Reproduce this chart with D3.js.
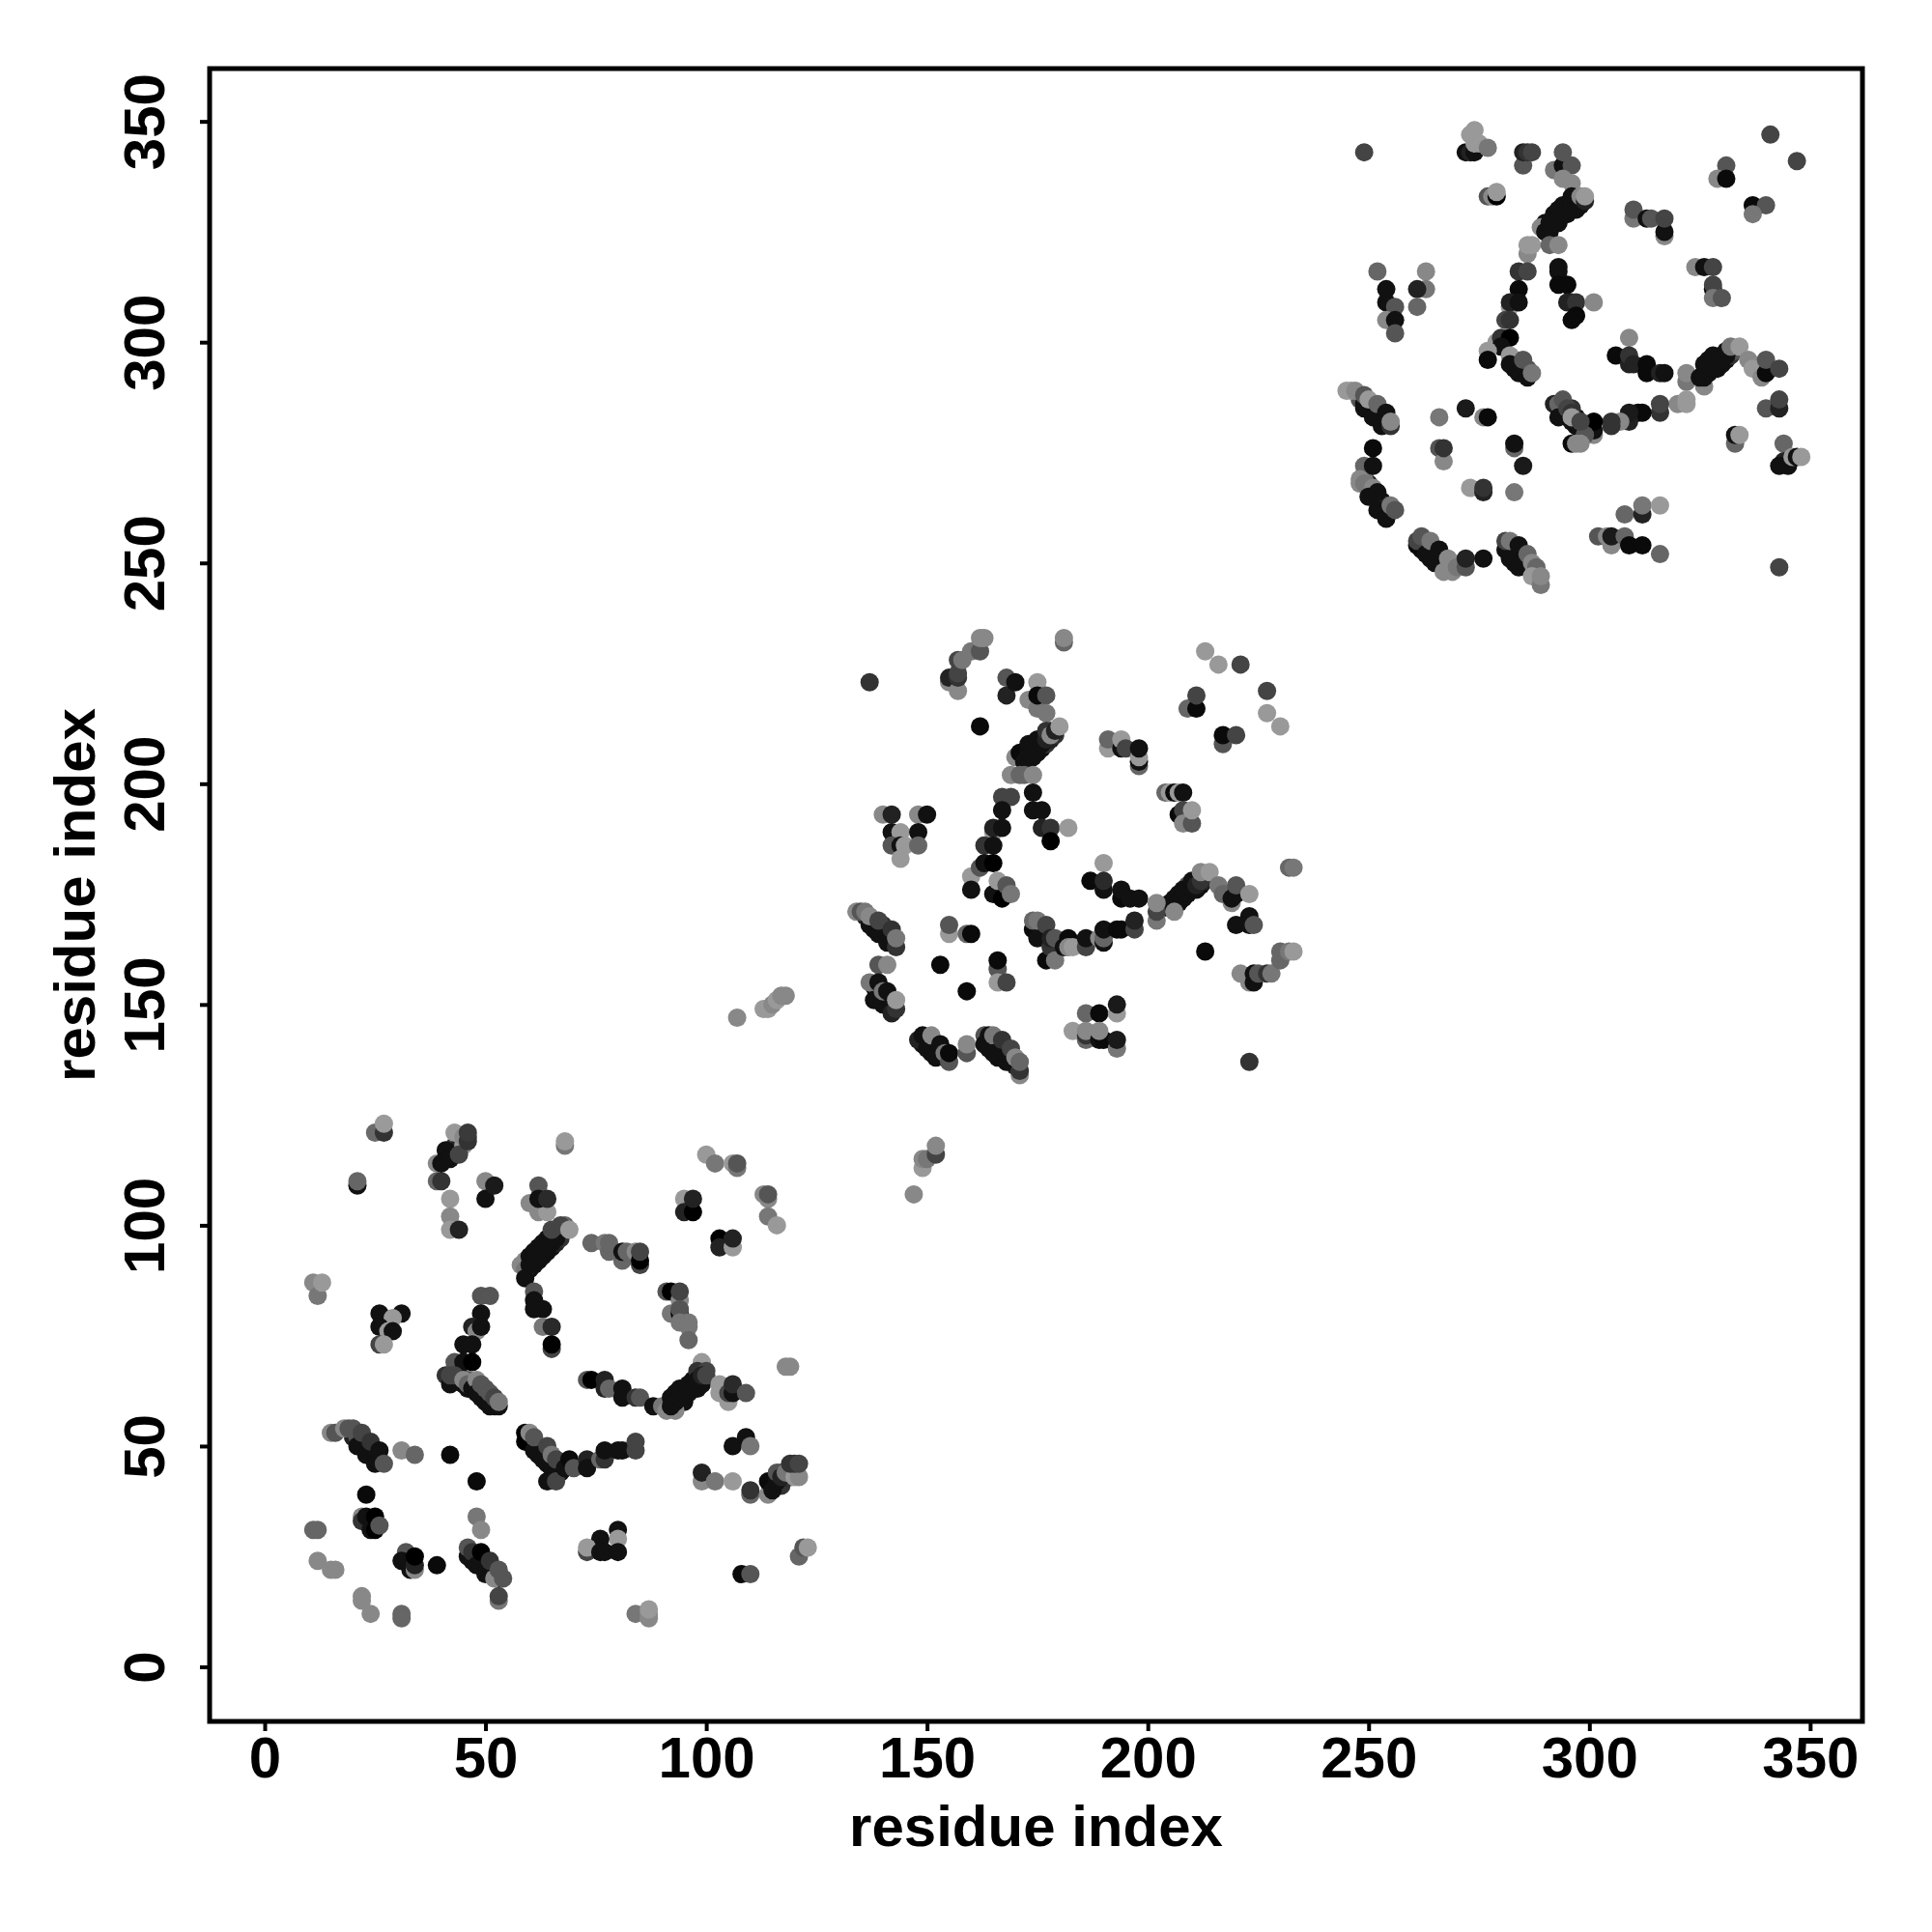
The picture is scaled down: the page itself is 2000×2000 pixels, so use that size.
<!DOCTYPE html>
<html><head><meta charset="utf-8">
<style>html,body{margin:0;padding:0;background:#fff}svg{display:block}text{font-family:"Liberation Sans",Arial,sans-serif;font-weight:700;fill:#000}</style>
<script src="https://cdn.jsdelivr.net/npm/d3@7"></script></head><body>
<script>
const tickLabels=[0,50,100,150,200,250,300,350];
const axisTitle="residue index";
// [residue i, residue j, shade level]
const contactsUnder=[
[42,117,0x11],[43,118,0x33],[44,119,0x55],[43,116,0x22],[44,118,0x22],[45,119,0x44],[46,120,0x33],
[20,52,0x22],[21,52,0x55],[22,51,0x11],[23,50,0x33],[24,49,0x11],[25,48,0x44],[26,47,0x11],[24,48,0x11],
[47,24,0x11],[48,25,0x55],[49,24,0x22],[50,23,0x55],[51,22,0x11],[52,21,0x55],[52,22,0x22],[53,20,0x11],[53,21,0x55],
[44,66,0x11],[45,64,0x11],[46,65,0x55],[46,63,0x11],[47,64,0x55],[48,63,0x11],[49,62,0x33],[50,61,0x11],[50,60,0x11],[51,60,0x33],[52,60,0x11],[52,59,0x11],
[60,51,0x11],[61,50,0x11],[62,49,0x44],[62,48,0x11],[63,49,0x55],[64,48,0x11],[65,46,0x11],[65,45,0x11],[66,45,0x33],[67,44,0x11],[67,46,0x44],[64,46,0x11],[66,44,0x11],
[92,60,0x11],[93,59,0x33],[93,62,0x11],[94,60,0x11],[95,61,0x11],[95,60,0x11],[96,62,0x11],[97,65,0x11],[97,64,0x11],[98,63,0x11],[99,65,0x33],[99,64,0x11],
[115,42,0x11],[116,41,0x11],[117,41,0x33],[117,44,0x44],[118,43,0x22],[119,44,0x55],[119,43,0x33],[120,45,0x44],
[60,90,0x11],[61,91,0x11],[62,92,0x11],[63,93,0x11],[64,94,0x11],[65,95,0x11],[66,96,0x22],[67,97,0x33],[67,99,0x55],[68,100,0x66],[62,94,0x55],[63,95,0x33],[64,96,0x55],[65,97,0x33],[66,98,0x55],
[172,206,0x11],[173,206,0x11],[174,208,0x11],[175,207,0x11],[176,208,0x11],[176,210,0x22],[177,209,0x33],[178,210,0x22],[178,212,0x55],[179,211,0x33],[174,209,0x55],
[205,172,0x11],[206,173,0x55],[207,173,0x11],[207,174,0x33],[208,175,0x55],[209,176,0x11],[209,177,0x55],[210,177,0x33],[211,176,0x11],[211,178,0x33],[212,177,0x11],[213,179,0x55],[213,178,0x22],
[138,169,0x22],[138,167,0x11],[140,168,0x33],[140,166,0x11],[141,167,0x44],[142,165,0x11],[142,164,0x11],[136,170,0x22],[139,168,0x11],[141,165,0x11],
[138,154,0x11],[139,153,0x55],[139,152,0x11],[140,151,0x11],[141,152,0x11],[141,150,0x11],[142,151,0x55],[142,150,0x11],[142,149,0x11],
[149,141,0x11],[150,142,0x55],[151,141,0x11],[151,139,0x11],[152,140,0x55],[153,139,0x11],[154,138,0x11],
[164,141,0x11],[165,141,0x55],[166,140,0x11],[166,138,0x11],[167,139,0x44],[168,139,0x11],[169,137,0x11],[170,136,0x22],[164,140,0x11],
[248,287,0x55],[249,286,0x11],[250,285,0x22],[251,285,0x55],[252,283,0x11],[252,284,0x33],[253,283,0x11],[254,282,0x11],[251,286,0x11],
[249,270,0x66],[250,268,0x22],[250,267,0x11],[251,266,0x11],[252,265,0x33],[253,264,0x11],[254,263,0x33],[253,262,0x11],[255,262,0x33],[254,262,0x11],[249,269,0x77],
[262,253,0x11],[263,254,0x11],[264,253,0x22],[264,251,0x11],[265,252,0x33],[266,251,0x11],[267,250,0x11],[268,249,0x55],[262,254,0x22],
[282,253,0x22],[283,252,0x11],[283,250,0x11],[284,251,0x11],[285,250,0x22],[286,249,0x55],[286,250,0x33],[287,248,0x77],[288,248,0x77],
[290,327,0x11],[291,326,0x11],[292,328,0x11],[293,330,0x11],[293,327,0x11],[294,330,0x11],[295,331,0x11],[295,329,0x11],[296,332,0x11],[296,330,0x11],[297,331,0x22],[298,332,0x11],
[326,293,0x11],[327,294,0x11],[327,296,0x11],[328,295,0x11],[329,296,0x11],[329,294,0x11],[330,295,0x11],[330,297,0x11],[331,298,0x11],[331,296,0x11],[332,297,0x33],[333,298,0x55],
[293,285,0x11],[294,284,0x11],[295,283,0x11],[296,285,0x33],[297,283,0x11],[294,285,0x22],[295,284,0x33],[297,281,0x11],
[283,294,0x11],[284,295,0x11],[285,294,0x33],[286,294,0x55],[285,293,0x11],[283,296,0x22],[286,293,0x33]
];
const contactsA=[
[25,121,0x6a],[27,121,0x33],[27,123,0x9a],[21,109,0x11],[21,110,0x66],
[39,114,0x88],[39,110,0x66],[40,110,0x33],[41,115,0x11],[40,114,0x11],[41,117,0x11],[42,115,0x11],[43,121,0x99],[45,118,0x99],[44,116,0x44],[45,120,0x88],[46,119,0x33],[46,121,0x3a],
[42,106,0x99],[42,102,0x88],[42,99,0x99],[44,99,0x22],[50,110,0x88],[50,106,0x11],[52,109,0x1a],
[62,109,0x55],[60,105,0x88],[62,103,0x88],[64,103,0x99],[62,106,0x11],[64,106,0x2a],
[59,92,0x88],[58,91,0x88],[59,90,0x77],[59,88,0x11],[60,93,0x11],[60,91,0x11],[61,94,0x11],[61,92,0x11],[62,95,0x11],[62,93,0x11],[63,96,0x11],[63,94,0x11],[64,97,0x11],[64,95,0x11],[65,98,0x11],[65,96,0x11],[66,99,0x22],[66,97,0x11],[67,100,0x44],[65,99,0x44],[69,99,0x99],
[61,85,0x55],[61,83,0x11],[61,81,0x11],[63,81,0x11],[63,77,0x77],[65,77,0x2a],[65,72,0x44],[65,73,0x02],
[68,118,0x77],[68,119,0x99],[11,87,0x88],[12,84,0x77],[13,87,0x99],
[26,80,0x11],[31,80,0x11],[29,79,0x99],[26,77,0x11],[28,76,0x99],[29,76,0x11],[26,73,0x44],[27,73,0x99],
[49,84,0x55],[51,84,0x55],[49,80,0x11],[47,77,0x22],[48,76,0x88],[49,77,0x11],[45,73,0x11],[47,73,0x11],[43,69,0x55],[45,69,0x11],[47,69,0x00],
[41,66,0x33],[42,64,0x11],[42,66,0x44],[43,66,0x44],[45,65,0x88],[46,64,0x66],[47,63,0x11],[48,65,0x88],[48,62,0x11],[49,61,0x11],[49,64,0x55],[50,63,0x55],[51,59,0x11],[51,62,0x55],[52,61,0x44],[53,59,0x11],[53,60,0x77],
[100,116,0x99],[102,114,0x77],[106,114,0x99],[107,113,0x77],[107,114,0x55],[113,107,0x88],[114,106,0x88],[114,107,0x55],[114,102,0x77],[116,100,0x99],
[95,106,0x99],[95,103,0x22],[97,103,0x00],[97,106,0x22],[103,97,0x00],[103,95,0x22],[106,95,0x99],[106,97,0x22],
[74,96,0x66],[77,96,0x77],[78,94,0x66],[78,96,0x66],[81,92,0x66],[81,94,0x11],[82,94,0x66],[84,94,0x88],[85,91,0x44],[85,92,0x00],[85,94,0x44],
[91,85,0x55],[92,85,0x00],[94,83,0x88],[94,85,0x44],[92,80,0x77],[94,80,0x00],[94,81,0x55],[94,78,0x77],[96,77,0x77],[96,78,0x77],[96,74,0x66],
[99,69,0x99],[98,67,0x33],[100,67,0x44],[118,68,0x88],[119,68,0x88],
[15,53,0x88],[16,53,0x55],[18,54,0x88],[19,54,0x55],[20,54,0x55],[21,50,0x11],[22,53,0x44],[23,48,0x11],[24,51,0x33],[25,46,0x11],[26,49,0x11],[27,46,0x55],[31,49,0x88],[34,48,0x66],
[42,48,0x0a],[48,42,0x0a],[23,39,0x0a],[48,34,0x77],[49,31,0x88],
[22,34,0x88],[22,33,0x33],[23,34,0x11],[24,31,0x11],[25,34,0x00],[25,31,0x00],[26,32,0x55],
[11,31,0x66],[12,31,0x66],[12,24,0x88],[15,22,0x88],[16,22,0x88],[22,16,0x88],[22,15,0x88],[24,12,0x88],[31,12,0x66],[31,11,0x66],
[32,26,0x55],[31,24,0x11],[33,22,0x11],[34,22,0x88],[34,23,0x22],[34,25,0x00],[39,23,0x0a],
[46,25,0x11],[46,27,0x55],[47,26,0x33],[48,23,0x11],[49,26,0x00],[50,21,0x11],[51,24,0x33],[52,20,0x88],[53,22,0x55],[54,20,0x55],[53,15,0x77],[53,16,0x44],
[59,51,0x00],[59,53,0x00],[60,53,0x88],[61,49,0x11],[61,52,0x55],[63,47,0x11],[64,50,0x44],[64,42,0x11],[66,42,0x44],[65,48,0x77],[66,47,0x44],[68,45,0x11],[69,47,0x0a],[70,45,0x55],
[73,47,0x22],[73,45,0x11],[76,47,0x66],[77,47,0x33],[77,49,0x11],[80,49,0x11],[81,49,0x11],[84,49,0x44],[84,51,0x44],
[73,65,0x55],[74,65,0x00],[77,63,0x22],[77,65,0x22],[78,63,0x66],[81,61,0x11],[81,63,0x11],[84,61,0x33],[85,61,0x55],[88,59,0x11],[90,59,0x77],[91,58,0x88],[93,58,0x88],
[92,61,0x11],[92,59,0x11],[93,60,0x11],[94,61,0x11],[94,63,0x11],[95,62,0x11],[96,63,0x11],[96,64,0x11],[97,63,0x11],[98,65,0x11],[99,66,0x22],[100,66,0x44],
[103,64,0x99],[103,62,0x99],[105,60,0x99],[105,62,0x44],[106,62,0x11],[106,64,0x2a],[109,62,0x55],
[106,50,0x11],[109,52,0x11],[110,50,0x77],[99,42,0x88],[99,44,0x22],[102,42,0x77],[106,42,0x99],[110,39,0x66],[110,40,0x33],
[114,39,0x88],[114,42,0x0a],[115,40,0x11],[116,42,0x11],[116,44,0x55],[117,43,0x22],[118,44,0x77],[120,43,0x99],[121,43,0x88],[119,46,0x33],[120,46,0x33],[121,46,0x44],
[121,25,0x66],[122,27,0x55],[123,27,0x99],[108,21,0x0a],[110,21,0x55],[84,12,0x77],[87,11,0x88],[87,12,0x88],[87,13,0x99],
[80,31,0x11],[80,29,0x99],[76,29,0x11],[73,26,0x44],[73,27,0x99],[76,26,0x11],[77,26,0x11],[80,26,0x11]
];
const contactsB=[
[137,223,0x33],[162,213,0x0a],[155,223,0x88],[155,224,0x22],[157,221,0x88],[157,224,0x33],[157,225,0x44],[157,228,0x44],[158,228,0x77],[160,230,0x77],[162,230,0x55],[162,233,0x88],[163,233,0x88],
[168,224,0x55],[168,220,0x22],[170,223,0x11],[175,223,0x99],[173,219,0x88],[175,217,0x77],[175,220,0x0a],[177,220,0x55],[177,216,0x77],
[170,206,0x88],[171,207,0x0a],[172,205,0x11],[173,207,0x11],[173,209,0x11],[174,206,0x11],[175,208,0x11],[175,210,0x11],[176,209,0x11],[177,210,0x22],[177,212,0x33],[178,211,0x88],[179,212,0x22],[180,213,0x99],
[169,202,0x88],[171,202,0x66],[172,202,0x66],[174,202,0x88],
[167,197,0x44],[169,197,0x44],[167,194,0x11],[165,189,0x99],[165,190,0x22],[167,190,0x11],[163,186,0x33],[165,186,0x11],[160,179,0x99],[160,176,0x11],[162,181,0x55],[163,182,0x11],[165,182,0x00],[165,175,0x11],[166,178,0x99],[167,174,0x00],[168,177,0x55],[169,175,0x77],
[174,198,0x11],[174,194,0x11],[176,194,0x11],[176,190,0x22],[178,190,0x33],[178,187,0x00],[182,190,0x99],
[140,193,0x88],[142,193,0x22],[148,193,0x88],[150,193,0x11],[142,189,0x11],[144,189,0x99],[148,189,0x11],[142,186,0x55],[144,186,0x11],[145,186,0x99],[148,186,0x66],[144,183,0x99],
[213,230,0x99],[216,227,0x99],[221,227,0x44],[227,221,0x44],[227,216,0x99],[230,213,0x99],[209,217,0x66],[211,217,0x0a],[211,220,0x44],[217,209,0x55],[217,211,0x0a],[220,211,0x44],[181,232,0x66],[181,233,0x88],
[191,208,0x99],[191,210,0x66],[194,208,0x11],[194,210,0x99],[195,208,0x44],[198,204,0x66],[198,205,0x11],[198,206,0x99],[198,208,0x11],
[204,198,0x66],[205,198,0x99],[206,198,0x0a],[207,198,0x99],[208,198,0x11],[207,193,0x0a],[208,194,0x44],[208,191,0x88],[210,191,0x55],[210,194,0x99],
[190,182,0x99],[187,178,0x0a],[190,176,0x11],[190,178,0x2a],[194,174,0x0a],[194,176,0x11],[196,174,0x11],[198,174,0x11],[232,181,0x66],[233,181,0x77],
[204,172,0x11],[205,173,0x11],[206,172,0x11],[206,174,0x11],[207,175,0x11],[208,174,0x11],[208,176,0x11],[209,175,0x11],[210,176,0x11],[210,178,0x11],[211,177,0x22],[212,178,0x33],[212,180,0x88],[214,180,0x99],
[216,177,0x77],[217,175,0x66],[219,173,0x88],[219,174,0x11],[220,175,0x11],[220,177,0x55],[223,175,0x99],
[134,171,0x88],[135,171,0x55],[136,171,0x77],[137,168,0x11],[137,170,0x88],[139,166,0x11],[139,169,0x44],[141,164,0x11],[142,167,0x33],[143,163,0x33],[143,165,0x77],
[139,159,0x55],[141,159,0x88],[137,155,0x77],[138,151,0x11],[139,155,0x11],[140,150,0x11],[140,153,0x77],[141,153,0x11],[142,148,0x22],[143,149,0x33],[143,151,0x99],
[148,142,0x22],[149,143,0x11],[150,140,0x11],[151,143,0x88],[152,138,0x11],[153,141,0x11],[154,139,0x77],[155,137,0x55],[155,139,0x0a],[159,139,0x55],[159,141,0x88],
[163,143,0x55],[164,143,0x11],[163,141,0x11],[165,143,0x77],[165,139,0x11],[167,142,0x33],[168,137,0x11],[169,140,0x44],[170,138,0x88],[171,134,0x88],[171,135,0x33],[171,137,0x66],
[155,166,0x99],[155,168,0x55],[159,166,0x66],[160,166,0x0a],[153,159,0x0a],[159,153,0x0a],[166,158,0x55],[166,160,0x0a],[166,155,0x99],[168,155,0x44],
[107,147,0x88],[113,149,0x99],[114,149,0x99],[115,150,0x88],[116,151,0x99],[117,152,0x88],[118,152,0x88],
[147,107,0x88],[149,113,0x99],[149,115,0x88],[150,115,0x77],[152,116,0x44],[152,118,0x88],
[174,167,0x0a],[174,169,0x66],[175,165,0x11],[175,169,0x77],[177,168,0x44],[177,160,0x0a],[178,163,0x33],[178,165,0x22],[179,160,0x77],[179,165,0x55],[181,163,0x11],[182,165,0x0a],[182,163,0x88],[183,163,0x99],
[186,163,0x44],[186,165,0x11],[189,165,0x88],[190,164,0x11],[190,165,0x66],[190,167,0x11],[193,167,0x0a],[194,167,0x0a],[197,167,0x44],[197,169,0x22],
[202,169,0x77],[202,171,0x44],[202,173,0x88],[206,171,0x88],[213,162,0x0a],[223,170,0x11],[220,168,0x11],[223,168,0x11],[224,168,0x55],
[221,157,0x88],[223,155,0x88],[224,155,0x11],[224,157,0x11],[225,157,0x55],[227,157,0x33],[228,157,0x77],[230,160,0x66],[230,162,0x66],[232,162,0x77],[233,162,0x99],[223,137,0x33],
[186,148,0x66],[189,148,0x0a],[193,148,0x99],[193,150,0x1a],[183,144,0x99],[186,142,0x66],[186,143,0x33],[186,144,0x88],[189,142,0x11],[190,142,0x0a],[189,144,0x88],[193,140,0x77],[193,142,0x1a]
];
const contactsC=[
[249,343,0x44],[272,343,0x11],[273,343,0x22],[274,343,0x11],[273,347,0x99],[274,345,0x99],[275,345,0x99],[274,348,0x99],[277,344,0x77],
[285,340,0x55],[285,343,0x22],[286,343,0x33],[287,343,0x44],[292,339,0x77],[294,340,0x11],[294,343,0x55],[296,340,0x55],[294,337,0x88],[296,336,0x88],
[277,333,0x55],[278,333,0x88],[279,333,0x00],[279,334,0x99],
[289,326,0x88],[290,325,0x11],[291,327,0x11],[291,325,0x11],[292,329,0x11],[292,327,0x11],[293,328,0x11],[294,331,0x11],[294,329,0x11],[295,330,0x11],[296,333,0x11],[296,331,0x11],[297,332,0x11],[297,330,0x11],[298,331,0x11],[298,333,0x88],[299,332,0x22],[299,333,0x99],
[286,320,0x88],[286,322,0x99],[287,322,0x99],[291,322,0x66],[293,322,0x88],
[284,316,0x33],[286,316,0x44],[284,312,0x0a],[282,308,0x99],[282,309,0x22],[284,309,0x11],[281,305,0x44],[282,305,0x33],[279,300,0x99],[280,301,0x33],[282,301,0x00],[280,299,0x11],
[277,298,0x99],[277,296,0x0a],[282,297,0x99],[282,295,0x11],[284,293,0x11],[285,296,0x55],[286,292,0x11],[287,293,0x77],
[293,316,0x11],[293,317,0x11],[293,313,0x0a],[295,313,0x0a],[295,309,0x22],[296,309,0x22],[296,305,0x0a],[297,309,0x33],[297,306,0x0a],[301,309,0x88],
[252,316,0x66],[263,316,0x88],[263,312,0x77],[261,312,0x22],[261,308,0x66],[254,312,0x11],[254,309,0x11],[256,308,0x55],[254,305,0x88],[256,305,0x11],[256,302,0x55],
[341,347,0x44],[347,341,0x44],[331,340,0x55],[329,337,0x88],[331,337,0x0a],[337,331,0x0a],[340,331,0x55],[337,329,0x77],
[310,328,0x77],[310,330,0x55],[313,328,0x11],[314,328,0x55],[317,324,0x88],[317,325,0x11],[317,328,0x44],
[324,317,0x88],[326,317,0x11],[328,317,0x44],[328,312,0x0a],[328,313,0x44],[328,310,0x77],[330,310,0x55],
[309,301,0x88],[306,297,0x0a],[309,295,0x22],[309,297,0x33],[310,295,0x22],[313,293,0x0a],[313,295,0x0a],[316,293,0x22],[317,293,0x11],[322,291,0x77],[322,293,0x88],
[326,290,0x88],[325,292,0x11],[326,292,0x11],[326,295,0x11],[327,293,0x11],[328,294,0x11],[328,297,0x11],[329,295,0x11],[330,296,0x11],[331,297,0x11],[332,299,0x77],[334,299,0x99],
[336,296,0x88],[337,294,0x99],[339,292,0x88],[340,293,0x0a],[340,296,0x55],[343,294,0x44],
[340,285,0x55],[343,285,0x22],[343,287,0x44],[320,286,0x88],[322,286,0x99],[322,287,0x99],
[316,284,0x33],[316,286,0x44],[311,284,0x11],[312,284,0x0a],[309,282,0x22],[309,284,0x1a],[307,282,0x88],[305,281,0x33],[305,282,0x33],[301,279,0x88],[301,280,0x11],[301,282,0x00],[299,279,0x55],
[296,277,0x0a],[297,277,0x88],[298,277,0x88],
[292,286,0x22],[293,286,0x66],[294,287,0x55],[293,283,0x11],[295,285,0x44],[296,284,0x33],[296,282,0x11],[296,283,0x99],[298,282,0x44],
[333,277,0x66],[333,279,0x11],[334,279,0x99],[344,277,0x66],[344,273,0x22],[343,272,0x11],[345,272,0x11],[346,274,0x99],[347,274,0x11],[348,274,0x99],[343,249,0x44],
[308,261,0x66],[312,261,0x22],[312,263,0x77],[316,263,0x99],[302,256,0x55],[304,256,0x88],[305,254,0x88],[305,256,0x1a],[308,256,0x66],[309,254,0x0a],[312,254,0x0a],[316,252,0x66],
[245,289,0x99],[246,289,0x99],[247,289,0x88],[249,285,0x11],[249,288,0x55],[250,287,0x99],[251,283,0x11],[252,286,0x66],[253,281,0x11],[254,284,0x11],[255,281,0x33],[255,282,0x88],
[251,276,0x0a],[249,272,0x66],[251,272,0x11],[248,268,0x88],[248,269,0x88],[249,268,0x77],[251,267,0x88],[250,265,0x11],[252,266,0x11],[252,262,0x11],[254,260,0x11],[255,263,0x77],[256,262,0x55],
[266,283,0x77],[272,285,0x1a],[276,283,0x88],[277,283,0x0a],[266,276,0x55],[267,273,0x88],[267,276,0x33],[283,276,0x66],[283,277,0x11],[285,272,0x1a],[283,266,0x77],[273,267,0x99],[276,266,0x22],[276,267,0x33],
[261,254,0x0a],[261,255,0x44],[262,256,0x55],[263,252,0x11],[264,255,0x77],[265,250,0x11],[266,253,0x11],[267,248,0x88],[268,251,0x88],[269,248,0x88],[270,249,0x77],[272,249,0x55],[272,251,0x22],[276,251,0x11],
[281,253,0x11],[281,255,0x44],[282,251,0x11],[282,255,0x77],[284,249,0x11],[284,254,0x11],[286,252,0x66],[287,250,0x88],[288,249,0x66],[287,247,0x99],[289,245,0x77],[289,247,0x88]
];

const W=2000,H=2000,boxL=217,boxR=1928,boxT=71,boxB=1782;
const pxPerUnit=4.571,x0=274,y0=1725.5;
const x=d3.scaleLinear().domain([(boxL-x0)/pxPerUnit,(boxR-x0)/pxPerUnit]).range([boxL,boxR]);
const y=d3.scaleLinear().domain([(y0-boxB)/pxPerUnit,(y0-boxT)/pxPerUnit]).range([boxB,boxT]);
const shade=d3.scaleLinear().domain([0,0x99]).range(["#000000","#999999"]);
const svg=d3.select("body").append("svg").attr("width",W).attr("height",H);
const pts=contactsUnder.concat(contactsA,contactsB,contactsC);
svg.append("g").selectAll("circle").data(pts).join("circle")
 .attr("cx",d=>x(d[0])).attr("cy",d=>y(d[1])).attr("r",9.5).attr("fill",d=>shade(d[2]));
const gx=svg.append("g").attr("transform",`translate(0,${boxB})`).call(d3.axisBottom(x).tickValues(tickLabels).tickSize(10).tickPadding(20).tickFormat(d3.format("d")));
const gy=svg.append("g").attr("transform",`translate(${boxL},0)`).call(d3.axisLeft(y).tickValues(tickLabels).tickSize(10).tickFormat(d3.format("d")));
[gx,gy].forEach(g=>{g.select(".domain").remove();g.selectAll("line").attr("stroke","#000").attr("stroke-width",4);g.selectAll("text").style("font-size","60px");});
gx.selectAll("text").attr("dy",null).attr("y",null).attr("transform","translate(0,58)").attr("text-anchor","middle");
gy.selectAll("text").attr("dy",null).attr("x",null).attr("text-anchor","middle").attr("transform","translate(-47,0) rotate(-90)");
svg.append("rect").attr("x",boxL).attr("y",boxT).attr("width",boxR-boxL).attr("height",boxB-boxT).attr("fill","none").attr("stroke","#000").attr("stroke-width",5);
svg.append("text").attr("x",(boxL+boxR)/2).attr("y",1911).attr("text-anchor","middle").style("font-size","60px").text(axisTitle);
svg.append("text").attr("transform",`translate(98,${(boxT+boxB)/2}) rotate(-90)`).attr("text-anchor","middle").style("font-size","60px").text(axisTitle);
</script></body></html>
